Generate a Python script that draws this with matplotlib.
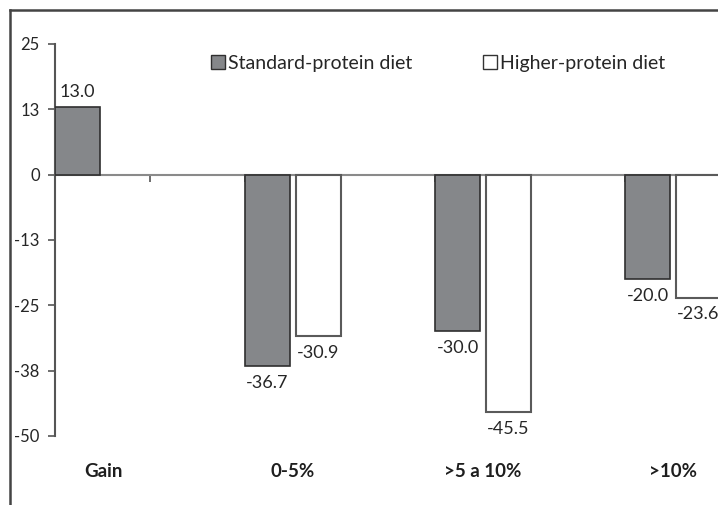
import numpy as np
import matplotlib.pyplot as plt
from matplotlib.lines import Line2D
from matplotlib.patches import Patch

plt.rcParams['font.family'] = ['Lato', 'DejaVu Sans']

# Data
categories = ['Gain', '0-5%', '>5 a 10%', '>10%']
standard = [13.0, -36.7, -30.0, -20.0]
higher = [np.nan, -30.9, -45.5, -23.6]
ytick_vals = [25, 12.5, 0, -12.5, -25, -37.5, -50]
ytick_labels = ['25', '13', '0', '-13', '-25', '-38', '-50']

W, H = 718, 505
fig = plt.figure(figsize=(W / 100, H / 100), dpi=100)

# axes placed so it runs past the right edge, like the cropped original
left_px, right_px, top_px, bottom_px = 55, 768, 44, 436
ax = fig.add_axes([left_px / W, 1 - bottom_px / H,
                   (right_px - left_px) / W, (bottom_px - top_px) / H])

x = np.arange(len(categories))
width = 0.237
off = 0.134
text_col = '#262626'

ax.bar(x - off, standard, width, color='#85878a', edgecolor='#2f2f2f',
       linewidth=1.2, zorder=3)
ax.bar(x + off, higher, width, color='white', edgecolor='#5a5a5a',
       linewidth=1.5, zorder=3)

# value labels
for xi, v in zip(x - off, standard):
    ax.annotate(f'{v:.1f}', (xi, v), xytext=(0, 5 if v > 0 else -6),
                textcoords='offset points', ha='center',
                va='bottom' if v > 0 else 'top', fontsize=13, color=text_col)
for xi, v in zip(x + off, higher):
    if np.isnan(v):
        continue
    ax.annotate(f'{v:.1f}', (xi, v), xytext=(0, -6),
                textcoords='offset points', ha='center', va='top',
                fontsize=13, color=text_col)

# y axis
ax.set_yticks(ytick_vals)
ax.set_yticklabels(ytick_labels)
ax.tick_params(axis='y', direction='out', length=5, width=1.2,
               color='#555555', labelsize=12, labelcolor=text_col, pad=6)
for s in ['top', 'right']:
    ax.spines[s].set_visible(False)
ax.spines['left'].set_color('#555555')
ax.spines['left'].set_linewidth(1.5)

# zero line with tick marks
ax.spines['bottom'].set_position(('data', 0))
ax.spines['bottom'].set_color('#8a8a8a')
ax.spines['bottom'].set_linewidth(1.5)
ax.spines['bottom'].set_zorder(2)
ax.set_xticks(np.arange(0.25, 3.5, 0.5))
ax.set_xticklabels([])
ax.tick_params(axis='x', direction='out', length=5, width=1.2, color='#555555')

ax.set_xlim(-0.2526, (right_px - 103) / 190)
ax.set_ylim(-50, 25)

# category labels below the plot
for xi, c in zip(x, categories):
    ax.text(xi, -0.09, c, transform=ax.get_xaxis_transform(), ha='center',
            va='center', fontsize=13.5, fontweight='bold', color='#1e1e1e')

# legend
handles = [Patch(facecolor='#85878a', edgecolor='#2f2f2f', label='Standard-protein diet'),
           Patch(facecolor='white', edgecolor='#333333', label='Higher-protein diet')]
fig.legend(handles=handles, loc='center', bbox_to_anchor=(438 / W, 1 - 63 / H),
           ncol=2, frameon=False, fontsize=14, handlelength=0.75,
           handleheight=0.75, handletextpad=0.15, columnspacing=3.6,
           labelcolor=text_col)

# outer frame (left and top edges visible)
fig.add_artist(Line2D([10 / W, 10 / W], [0, 1 - 10 / H], transform=fig.transFigure,
                      color='#444444', linewidth=1.8))
fig.add_artist(Line2D([10 / W, 1.0], [1 - 10 / H, 1 - 10 / H], transform=fig.transFigure,
                      color='#444444', linewidth=1.8))

fig.savefig('out.png', dpi=100)
